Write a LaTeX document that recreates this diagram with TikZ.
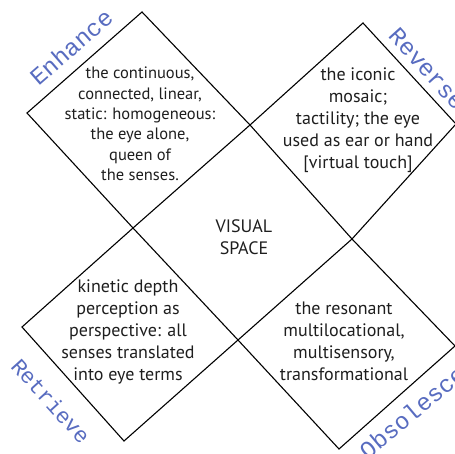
\documentclass[tikz,border=0pt]{standalone}
\usepackage{fontspec}
\setmainfont{PT Sans}
\newfontfamily\labelfont{Liberation Mono}
\definecolor{lblue}{RGB}{88,108,192}
\definecolor{ink}{RGB}{30,30,30}
\tikzset{
  edge/.style={draw=black, line width=1.1pt, line join=miter},
  body/.style={align=center, text=ink, inner sep=0pt, font=\fontsize{16.5}{20.4}\selectfont},
  bodyb/.style={body, font=\fontsize{18}{22}\selectfont},
  lbl/.style={text=lblue, inner sep=0pt, font=\labelfont\fontsize{24}{24}\selectfont}
}
\begin{document}
\begin{tikzpicture}[x=1pt,y=-1pt]
\useasboundingbox (0,0) rectangle (455,454);
% grid vertices
\coordinate (tlT) at (142,12);
\coordinate (tlL) at (27,113);
\coordinate (cT)  at (250,125);
\coordinate (cL)  at (133,228);
\coordinate (trT) at (363,23);
\coordinate (trR) at (456,124);
\coordinate (cR)  at (352,239);
\coordinate (cB)  at (238,340);
\coordinate (blL) at (22,327);
\coordinate (blB) at (124,441);
\coordinate (brR) at (455,346);
\coordinate (brB) at (339,449);
% diamonds
\draw[edge] (tlT) -- (cT) -- (cL) -- (tlL) -- cycle;
\draw[edge] (trT) -- (trR) -- (cR) -- (cT) -- cycle;
\draw[edge] (cL) -- (cB) -- (blB) -- (blL) -- cycle;
\draw[edge] (cR) -- (brR) -- (brB) -- (cB) -- cycle;
% texts
\node[body] (tl) at (140,124) {the continuous,\\connected, linear,\\static: homogeneous:\\the eye alone,\\queen of\\the senses.};
\node[bodyb] (tr) at (358,120) {the iconic\\mosaic;\\tactility; the eye\\used as ear or hand\\{[}virtual touch{]}};
\node[bodyb] (bl) at (128,332) {kinetic depth\\perception as\\perspective: all\\senses translated\\into eye terms};
\node[bodyb] (br) at (344,341) {the resonant\\multilocational,\\multisensory,\\transformational};
\node[bodyb] (c) at (244,237) {VISUAL\\SPACE};
% labels
\node[lbl, rotate=41] (enh) at (71,47) {Enhance};
\node[lbl, rotate=-48] (rev) at (427,69) {Reverse};
\node[lbl, rotate=-48, font=\labelfont\fontsize{22}{22}\selectfont] (ret) at (51,401) {Retrieve};
\node[lbl, rotate=40] (obs) at (412,412) {Obsolesce};
\end{tikzpicture}
\end{document}
